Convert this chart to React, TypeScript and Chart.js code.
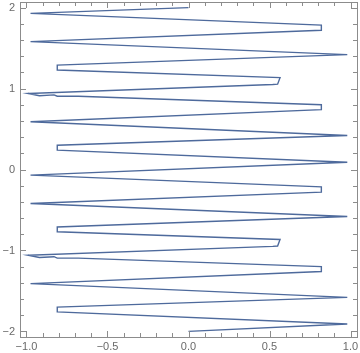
import React, { useEffect, useRef } from "react";
import { Chart, registerables } from "chart.js";

Chart.register(...registerables);

// Zigzag curve vertices (x, y), top to bottom
const curveX = [
  0.0, -0.975, 0.82, 0.82, -0.975, 0.98, -0.81, -0.81, 0.565, 0.55, 0.52,
  -0.99, -0.92, -0.83, -0.81, -0.68, 0.82, 0.82, -0.975, 0.98, -0.81, -0.81,
  0.98, -0.975, 0.82, 0.82, -0.975, 0.98, -0.81, -0.81, 0.565, 0.55, 0.52,
  -0.99, -0.92, -0.83, -0.81, -0.68, 0.82, 0.82, -0.975, 0.98, -0.81, -0.81,
  0.98, 0.0,
];
const curveY = [
  2.0, 1.93, 1.785, 1.72, 1.58, 1.42, 1.29, 1.23, 1.135, 1.055, 1.05,
  0.94, 0.912, 0.922, 0.905, 0.905, 0.8, 0.74, 0.59, 0.42, 0.3, 0.24,
  0.09, -0.07, -0.215, -0.28, -0.42, -0.58, -0.71, -0.77, -0.865, -0.945, -0.95,
  -1.06, -1.088, -1.078, -1.095, -1.095, -1.2, -1.26, -1.41, -1.58, -1.7, -1.76,
  -1.91, -2.0,
];

// Axis ticks
const xMajorTicks = [-1, -0.5, 0, 0.5, 1];
const xMajorLabels = ["\u22121.0", "\u22120.5", "0.0", "0.5", "1.0"];
const xMinorTicks = [-0.9, -0.8, -0.7, -0.6, -0.4, -0.3, -0.2, -0.1, 0.1, 0.2, 0.3, 0.4, 0.6, 0.7, 0.8, 0.9];
const yMajorTicks = [-2, -1, 0, 1, 2];
const yMajorLabels = ["\u22122", "\u22121", "0", "1", "2"];
const yMinorTicks = [-1.8, -1.6, -1.4, -1.2, -0.8, -0.6, -0.4, -0.2, 0.2, 0.4, 0.6, 0.8, 1.2, 1.4, 1.6, 1.8];

const xRange = [-1.04, 1.04];
const yRange = [-2.07, 2.07];

const frameColor = "#8c8c8c";
const labelColor = "#6a6a6a";
const lineColor = "#4e6a9c";
const labelFont = "11px 'Liberation Sans', Arial, sans-serif";

const framePlugin = {
  id: "mmaFrame",
  afterDraw(chart: any) {
    const { ctx, chartArea } = chart;
    const xs = chart.scales.x;
    const ys = chart.scales.y;
    const { left, right, top, bottom } = chartArea;
    ctx.save();
    ctx.strokeStyle = frameColor;
    ctx.lineWidth = 1;
    ctx.strokeRect(Math.round(left) + 0.5, Math.round(top) + 0.5, Math.round(right - left), Math.round(bottom - top));
    const drawX = (v: number, len: number) => {
      const px = Math.round(xs.getPixelForValue(v)) + 0.5;
      ctx.beginPath();
      ctx.moveTo(px, bottom);
      ctx.lineTo(px, bottom - len);
      ctx.moveTo(px, top);
      ctx.lineTo(px, top + len);
      ctx.stroke();
    };
    const drawY = (v: number, len: number) => {
      const py = Math.round(ys.getPixelForValue(v)) + 0.5;
      ctx.beginPath();
      ctx.moveTo(left, py);
      ctx.lineTo(left + len, py);
      ctx.moveTo(right, py);
      ctx.lineTo(right - len, py);
      ctx.stroke();
    };
    xMajorTicks.forEach((v) => drawX(v, 6));
    xMinorTicks.forEach((v) => drawX(v, 4));
    yMajorTicks.forEach((v) => drawY(v, 6));
    yMinorTicks.forEach((v) => drawY(v, 4));

    ctx.fillStyle = labelColor;
    ctx.font = labelFont;
    ctx.textAlign = "center";
    ctx.textBaseline = "alphabetic";
    xMajorTicks.forEach((v, i) => {
      ctx.fillText(xMajorLabels[i], xs.getPixelForValue(v), bottom + 13);
    });
    ctx.textAlign = "right";
    ctx.textBaseline = "middle";
    yMajorTicks.forEach((v, i) => {
      ctx.fillText(yMajorLabels[i], left - 5, ys.getPixelForValue(v) + 0.5);
    });
    ctx.restore();
  },
};

export default function App() {
  const ref = useRef<HTMLCanvasElement | null>(null);
  useEffect(() => {
    if (!ref.current) return;
    const points = curveX.map((x, i) => ({ x, y: curveY[i] }));
    const chart = new Chart(ref.current, {
      type: "scatter",
      data: {
        datasets: [
          {
            data: points,
            showLine: true,
            borderColor: lineColor,
            borderWidth: 1.4,
            pointRadius: 0,
            tension: 0,
            fill: false,
          },
        ],
      },
      options: {
        animation: false,
        responsive: false,
        maintainAspectRatio: false,
        layout: { padding: { left: 0, right: 3, top: 2, bottom: 0 } },
        plugins: { legend: { display: false }, tooltip: { enabled: false } },
        scales: {
          x: {
            type: "linear",
            min: xRange[0],
            max: xRange[1],
            grid: { display: false },
            border: { display: false },
            ticks: { display: false },
            afterFit: (s: any) => {
              s.height = 16;
            },
          },
          y: {
            type: "linear",
            min: yRange[0],
            max: yRange[1],
            grid: { display: false },
            border: { display: false },
            ticks: { display: false },
            afterFit: (s: any) => {
              s.width = 20;
            },
          },
        },
      },
      plugins: [framePlugin],
    });
    return () => chart.destroy();
  }, []);
  return (
    <div style={{ position: "fixed", left: 0, top: 0, width: 360, height: 353, background: "#fff" }}>
      <canvas ref={ref} width={360} height={353} style={{ display: "block", width: 360, height: 353 }} />
    </div>
  );
}
